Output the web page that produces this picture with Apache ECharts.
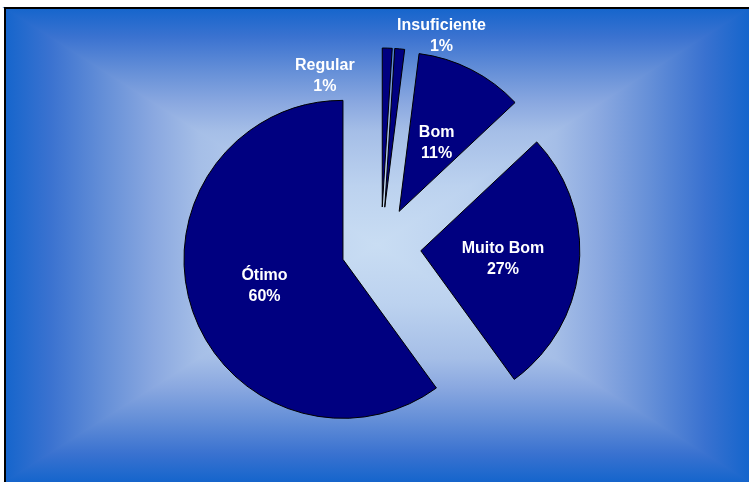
<!DOCTYPE html>
<html><head><meta charset="utf-8">
<script src="https://cdn.jsdelivr.net/npm/echarts@6/dist/echarts.min.js"></script>
<style>html,body{margin:0;padding:0;background:#fff}#c{width:749px;height:482px}</style>
</head><body><div id="c"></div>
<script>
// ---- data ----
const categories = ['Regular', 'Insuficiente', 'Bom', 'Muito Bom', 'Ótimo'];
const values = [1, 1, 11, 27, 60];

// ---- layout / style config ----
const W = 749, H = 482;
const bgLeft = 5, bgTop = 8;
const bgCx = (bgLeft + W) / 2, bgCy = (bgTop + H) / 2;
const stops = [
  { offset: 0, color: '#1565cc' },
  { offset: 0.12, color: '#3a72d0' },
  { offset: 0.27, color: '#6690d8' },
  { offset: 0.4, color: '#8aa8e0' },
  { offset: 0.52, color: '#a5bee7' },
  { offset: 0.75, color: '#bcd2ef' },
  { offset: 1, color: '#c9ddf3' }
];
// label nudges (relative to the library's own label position)
const labelNudge = { 'Regular': [-60, -48], 'Insuficiente': [49, -89], 'Bom': [0, 5], 'Ótimo': [0, 1], 'Muito Bom': [0, 1] };

function grad(x, y, x2, y2) {
  return { type: 'linear', x: x, y: y, x2: x2, y2: y2, global: true, colorStops: stops };
}
function tri(points, g) {
  return { type: 'polygon', z: 0, silent: true, shape: { points: points }, style: { fill: g, stroke: g, lineWidth: 1.5 } };
}

const chart = echarts.init(document.getElementById('c'), null, { renderer: 'canvas' });
chart.setOption({
  animation: false,
  backgroundColor: '#ffffff',
  graphic: [
    tri([[bgLeft, bgTop], [bgLeft, H], [bgCx, bgCy]], grad(bgLeft, 0, bgCx, 0)),
    tri([[W, bgTop], [W, H], [bgCx, bgCy]], grad(W, 0, bgCx, 0)),
    tri([[bgLeft, bgTop], [W, bgTop], [bgCx, bgCy]], grad(0, bgTop, 0, bgCy)),
    tri([[bgLeft, H], [W, H], [bgCx, bgCy]], grad(0, H, 0, bgCy)),
    { type: 'polyline', z: 1, silent: true, shape: { points: [[bgLeft, H + 5], [bgLeft, bgTop], [W + 5, bgTop]] }, style: { stroke: '#000', lineWidth: 2, fill: null } }
  ],
  series: [{
    type: 'pie',
    z: 3,
    center: [381, 247],
    radius: 159,
    startAngle: 90,
    clockwise: true,
    selectedMode: 'multiple',
    selectedOffset: 40,
    avoidLabelOverlap: false,
    emphasis: { disabled: true },
    itemStyle: { color: '#000080', borderColor: '#000000', borderWidth: 1 },
    select: { itemStyle: { color: '#000080', borderColor: '#000000', borderWidth: 1 } },
    label: {
      show: true,
      position: 'inside',
      color: '#ffffff',
      fontFamily: 'Liberation Sans, Arial, sans-serif',
      fontWeight: 'bold',
      fontSize: 16,
      lineHeight: 21,
      align: 'center',
      formatter: function (p) { return p.name + '\n' + Math.round(p.percent) + '%'; }
    },
    labelLine: { show: false },
    labelLayout: function (p) {
      const n = labelNudge[categories[p.dataIndex]];
      return n ? { dx: n[0], dy: n[1] } : {};
    },
    data: categories.map(function (c, i) { return { name: c, value: values[i], selected: true }; })
  }]
});
</script></body></html>
